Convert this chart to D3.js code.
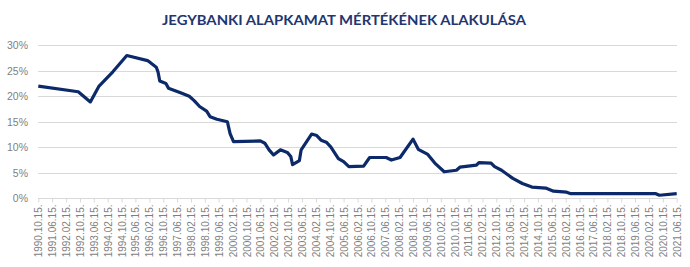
<!DOCTYPE html>
<html><head><meta charset="utf-8">
<script src="https://cdn.jsdelivr.net/npm/d3@7"></script>
<style>body{margin:0;background:#fff}svg{display:block}</style>
</head><body><div id="chart"></div>
<script>
const title = "JEGYBANKI ALAPKAMAT MÉRTÉKÉNEK ALAKULÁSA";
const dates = ["1990-10-15","1992-09-15","1993-04-15","1993-09-15","1994-05-15","1995-01-15","1996-01-15","1996-06-15","1996-07-15","1996-08-15","1996-12-01","1997-01-15","1997-08-15","1998-01-15","1998-04-15","1998-07-15","1998-11-15","1999-01-15","1999-05-15","1999-11-15","2000-01-01","2000-03-01","2001-06-15","2001-09-01","2001-11-15","2002-02-01","2002-06-01","2002-10-01","2002-12-01","2003-01-01","2003-05-01","2003-06-01","2003-12-01","2004-03-01","2004-05-15","2004-08-15","2004-11-01","2005-03-15","2005-06-15","2005-09-15","2006-06-01","2006-09-15","2007-07-01","2007-10-01","2008-03-01","2008-10-15","2009-01-15","2009-07-01","2009-11-01","2010-04-15","2010-11-15","2011-01-15","2011-11-01","2011-12-15","2012-07-15","2012-09-15","2013-01-15","2013-08-01","2014-01-15","2014-07-01","2015-03-01","2015-07-15","2016-03-01","2016-05-15","2020-06-15","2020-08-15","2021-06-15"];
const rates = [22.0,20.9,18.9,22.0,24.8,28.0,27.0,25.7,24.8,23.0,22.5,21.6,20.7,20.0,19.1,18.0,17.1,16.0,15.5,15.0,12.7,11.1,11.25,10.8,9.5,8.5,9.5,9.0,8.2,6.6,7.4,9.5,12.6,12.3,11.4,11.0,10.1,7.8,7.2,6.2,6.3,8.0,8.0,7.5,8.0,11.6,9.6,8.6,6.9,5.2,5.5,6.1,6.5,7.0,6.9,6.2,5.5,3.9,2.9,2.2,2.0,1.4,1.2,0.9,0.9,0.6,0.9];
const yTicks = [0,5,10,15,20,25,30];
const tickStart = "1990-10-15", tickEnd = "2021-06-15", tickStepMonths = 8;

const W = 690, H = 267;
const svg = d3.select("#chart").append("svg").attr("width", W).attr("height", H);
const parse = d3.utcParse("%Y-%m-%d");
const x = d3.scaleUtc().domain([parse(tickStart), parse(tickEnd)]).range([38.3, 676.7]);
const y = d3.scaleLinear().domain([0, 30]).range([198.3, 45.3]);

svg.append("text").attr("x", 344).attr("y", 25).attr("text-anchor", "middle")
  .attr("font-family", "Lato, 'Open Sans', sans-serif").attr("font-weight", "bold")
  .attr("font-size", 14).attr("fill", "#1f3670")
  .attr("textLength", 364).attr("lengthAdjust", "spacingAndGlyphs").text(title);

// gridlines
svg.append("g").selectAll("line").data(yTicks.filter(d => d > 0)).join("line")
  .attr("x1", 38).attr("x2", 677).attr("y1", d => Math.round(y(d)) + 0.5).attr("y2", d => Math.round(y(d)) + 0.5)
  .attr("stroke", "#d9d9d9").attr("stroke-width", 1);

// y axis labels
const yAxis = d3.axisLeft(y).tickValues(yTicks).tickFormat(d => d + "%").tickSize(0).tickPadding(0);
const gy = svg.append("g").attr("transform", "translate(28,0)").call(yAxis);
gy.select(".domain").remove();
gy.selectAll("text").attr("font-family", "'Liberation Sans', Arial, sans-serif").attr("font-size", 10.5).attr("fill", "#7f7f7f");

// x axis
const xt = [];
for (let d = parse(tickStart); d <= parse(tickEnd); d = d3.utcMonth.offset(d, tickStepMonths)) xt.push(d);
const xAxis = d3.axisBottom(x).tickValues(xt).tickFormat(d3.utcFormat("%Y.%m.%d.")).tickSize(4).tickSizeOuter(0);
const gx = svg.append("g").attr("transform", "translate(0,198.5)").call(xAxis);
gx.select(".domain").attr("stroke", "#d9d9d9").attr("d", "M38,0H677");
gx.selectAll(".tick line").attr("stroke", "#d9d9d9");
gx.selectAll("text").attr("font-family", "'Liberation Sans', Arial, sans-serif").attr("font-size", 10).attr("fill", "#7f7f7f")
  .attr("transform", "rotate(-90)").attr("text-anchor", "end").attr("x", -6).attr("y", 0).attr("dy", "0.35em");

// line
const data = dates.map((d, i) => ({ date: parse(d), v: rates[i] }));
svg.append("path").datum(data).attr("fill", "none").attr("stroke", "#0c2a6a").attr("stroke-width", 3.2)
  .attr("stroke-linejoin", "round")
  .attr("d", d3.line().x(d => x(d.date)).y(d => y(d.v)));
</script></body></html>
